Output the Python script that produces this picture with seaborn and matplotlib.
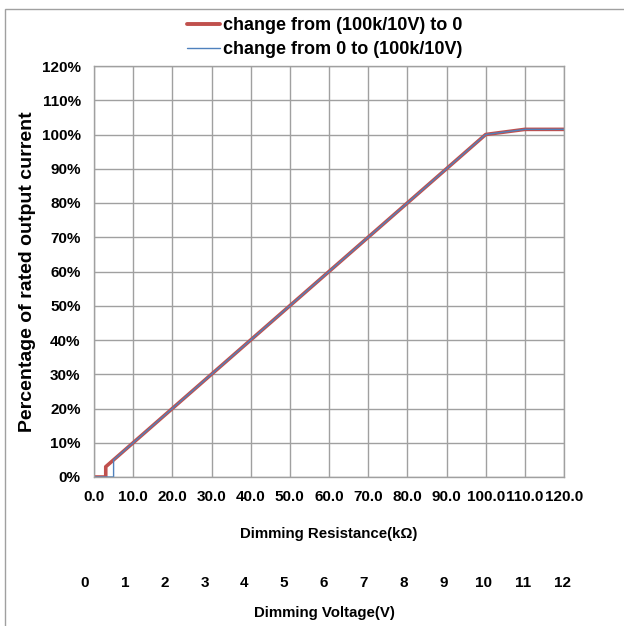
import matplotlib
matplotlib.use("Agg")
import matplotlib.pyplot as plt
import numpy as np
import pandas as pd
import seaborn as sns
from matplotlib.patches import Rectangle
from matplotlib.ticker import FuncFormatter, MultipleLocator

res_down = [0.0, 3.0, 3.0, 10.0, 20.0, 30.0, 40.0, 50.0, 60.0, 70.0, 80.0, 90.0, 100.0, 110.0, 120.0]
pct_down = [0.0, 0.0, 3.0, 10.0, 20.0, 30.0, 40.0, 50.0, 60.0, 70.0, 80.0, 90.0, 100.0, 101.5, 101.5]
res_up = [0.0, 5.0, 5.0, 10.0, 20.0, 30.0, 40.0, 50.0, 60.0, 70.0, 80.0, 90.0, 100.0, 110.0, 120.0]
pct_up = [0.0, 0.0, 5.0, 10.0, 20.0, 30.0, 40.0, 50.0, 60.0, 70.0, 80.0, 90.0, 100.0, 101.5, 101.5]
series_names = ["change from (100k/10V) to 0", "change from 0 to (100k/10V)"]
voltage_ticks = list(range(0, 13))

RED = "#C0504D"
BLUE = "#4F81BD"
GRID = "#A0A0A0"

sns.set_theme(style="whitegrid")
plt.rcParams["font.family"] = ["Liberation Sans", "DejaVu Sans"]
plt.rcParams["font.weight"] = "bold"
plt.rcParams["text.color"] = "black"
plt.rcParams["axes.labelcolor"] = "black"

df = pd.concat([
    pd.DataFrame({"res": res_down, "pct": pct_down, "series": series_names[0]}),
    pd.DataFrame({"res": res_up, "pct": pct_up, "series": series_names[1]}),
], ignore_index=True)

W, H = 624, 626
fig = plt.figure(figsize=(W / 100, H / 100), dpi=100)
ax = fig.add_axes([94 / W, 1 - 477 / H, 470 / W, 411 / H])

sns.lineplot(data=df, x="res", y="pct", hue="series", size="series",
             sizes={series_names[0]: 2.6, series_names[1]: 1.0},
             palette={series_names[0]: RED, series_names[1]: BLUE},
             estimator=None, sort=False, ax=ax, legend=False)

ax.set_xlim(0, 120)
ax.set_ylim(0, 120)
ax.xaxis.set_major_locator(MultipleLocator(10))
ax.yaxis.set_major_locator(MultipleLocator(10))
ax.xaxis.set_major_formatter(FuncFormatter(lambda v, p: f"{v:.1f}"))
ax.yaxis.set_major_formatter(FuncFormatter(lambda v, p: f"{v:.0f}%"))
ax.grid(True, color=GRID, linewidth=1.0)
for s in ax.spines.values():
    s.set_color(GRID)
    s.set_linewidth(1.0)
ax.tick_params(axis="both", length=3.6, width=1.0, color=GRID, labelsize=11,
               labelcolor="black")
ax.tick_params(axis="x", pad=5.5)
ax.tick_params(axis="y", pad=6)
for lbl in ax.get_xticklabels() + ax.get_yticklabels():
    lbl.set_fontweight("bold")
ax.set_xlabel("Dimming Resistance(k\u03a9)", fontsize=10.8, fontweight="bold", labelpad=16.5)
ax.set_ylabel("Percentage of rated output current", fontsize=14, fontweight="bold", labelpad=4)

# separate scale strip for the dimming voltage (offset from the resistance grid)
ax2 = fig.add_axes([85 / W, 1 - 574 / H, 478 / W, 0.0005])
ax2.set_xlim(0, 12)
ax2.set_xticks(voltage_ticks)
ax2.set_xticklabels([str(v) for v in voltage_ticks], fontweight="bold")
ax2.set_yticks([])
ax2.set_facecolor("none")
for s in ax2.spines.values():
    s.set_visible(False)
ax2.tick_params(axis="x", length=0, pad=1.5, labelsize=11, labelcolor="black")
ax2.grid(False)
ax2.set_xlabel("Dimming Voltage(V)", fontsize=10.8, fontweight="bold", labelpad=11.5)

handles = [plt.Line2D([], [], color=RED, linewidth=2.8),
           plt.Line2D([], [], color=BLUE, linewidth=1.0)]
fig.legend(handles, series_names, loc="upper center", bbox_to_anchor=(325 / W, 1 - 8 / H),
           frameon=False, ncol=1, handlelength=1.8, handletextpad=0.18,
           borderpad=0, labelspacing=0.4, prop={"weight": "bold", "size": 13})

fig.add_artist(Rectangle((5 / W, -0.1), 2, 1 - 9 / H + 0.1, transform=fig.transFigure,
                         fill=False, edgecolor="#A0A0A0", linewidth=1.0))

fig.savefig("out.png", dpi=100)
